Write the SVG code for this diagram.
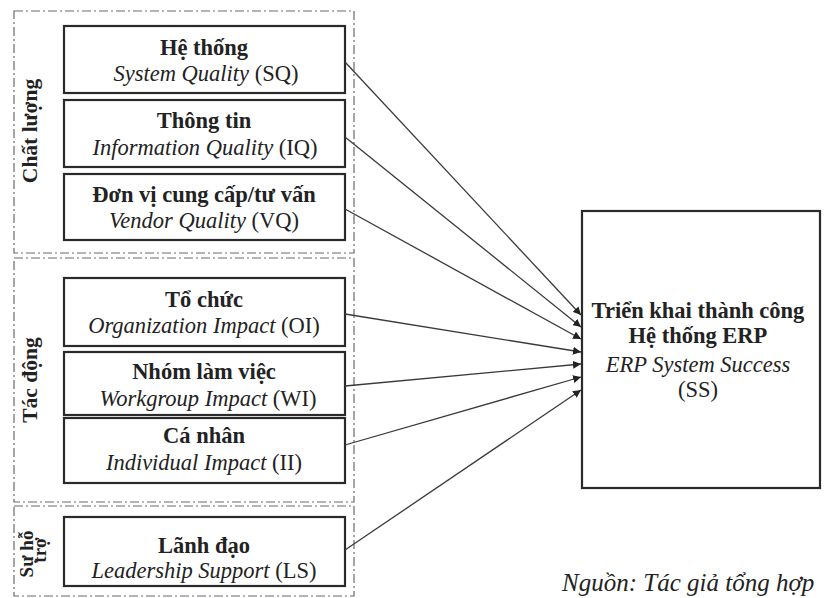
<svg xmlns="http://www.w3.org/2000/svg" width="826" height="598" viewBox="0 0 826 598">
<defs>
<style>
.grp{fill:none;stroke:#6a6a6a;stroke-width:1.2;stroke-dasharray:9 3 2 3}
.box{fill:#fff;stroke:#2a2a2a;stroke-width:2.2}
.t{font-family:"Liberation Serif","Times New Roman",serif;fill:#222;text-anchor:middle}
.b{font-weight:bold;font-size:22.5px}
.i{font-style:italic;font-size:22.5px}
.n{font-style:normal}
.lbl{font-family:"Liberation Serif","Times New Roman",serif;font-weight:bold;font-size:21.5px;fill:#222;text-anchor:middle}
.con{stroke:#3a3a3a;stroke-width:1.3;fill:none;marker-end:url(#ah)}
</style>
<marker id="ah" viewBox="0 0 10 10" refX="10" refY="5" markerWidth="8" markerHeight="8" markerUnits="userSpaceOnUse" orient="auto">
<path d="M0,0 L10,5 L0,10 z" fill="#222"/>
</marker>
</defs>
<rect width="826" height="598" fill="#fff"/>

<g id="group-chatluong">
<rect class="grp" x="14" y="11" width="340" height="242"/>
<text class="lbl" transform="translate(37,131) rotate(-90)">Chất lượng</text>
</g>
<g id="group-tacdong">
<rect class="grp" x="14" y="258" width="340" height="244"/>
<text class="lbl" transform="translate(37,380) rotate(-90)">Tác động</text>
</g>
<g id="group-suhotro">
<rect class="grp" x="14" y="506" width="340" height="90"/>
<text class="lbl" style="font-size:19px" transform="translate(33,554) rotate(-90)">Sự hỗ</text>
<text class="lbl" style="font-size:19px" transform="translate(46,550) rotate(-90)">trợ</text>
</g>

<g id="node-SQ">
<rect class="box" x="64" y="26" width="281" height="67"/>
<text class="t b" x="204" y="55">Hệ thống</text>
<text class="t i" x="206" y="81">System Quality <tspan class="n">(SQ)</tspan></text>
</g>
<g id="node-IQ">
<rect class="box" x="64" y="100" width="281" height="67"/>
<text class="t b" x="204" y="128">Thông tin</text>
<text class="t i" x="205" y="155">Information Quality <tspan class="n">(IQ)</tspan></text>
</g>
<g id="node-VQ">
<rect class="box" x="64" y="174" width="281" height="66"/>
<text class="t b" x="204" y="202">Đơn vị cung cấp/tư vấn</text>
<text class="t i" x="204" y="228">Vendor Quality <tspan class="n">(VQ)</tspan></text>
</g>
<g id="node-OI">
<rect class="box" x="64" y="278" width="281" height="68"/>
<text class="t b" x="204" y="307">Tổ chức</text>
<text class="t i" x="204" y="333">Organization Impact <tspan class="n">(OI)</tspan></text>
</g>
<g id="node-WI">
<rect class="box" x="64" y="352" width="281" height="63"/>
<text class="t b" x="204" y="379">Nhóm làm việc</text>
<text class="t i" x="208" y="406">Workgroup Impact <tspan class="n">(WI)</tspan></text>
</g>
<g id="node-II">
<rect class="box" x="64" y="418" width="281" height="65"/>
<text class="t b" x="204" y="443">Cá nhân</text>
<text class="t i" x="204" y="470">Individual Impact <tspan class="n">(II)</tspan></text>
</g>
<g id="node-LS">
<rect class="box" x="64" y="517" width="281" height="69"/>
<text class="t b" x="204" y="553">Lãnh đạo</text>
<text class="t i" x="204" y="578">Leadership Support <tspan class="n">(LS)</tspan></text>
</g>

<g id="node-SS">
<rect class="box" x="582" y="211" width="238" height="277"/>
<text class="t b" x="698" y="318">Triển khai thành công</text>
<text class="t b" x="698" y="343">Hệ thống ERP</text>
<text class="t i" x="698" y="372">ERP System Success</text>
<text class="t" style="font-size:22.5px" x="698" y="397">(SS)</text>
</g>

<g id="connectors">
<line class="con" x1="345" y1="62" x2="581" y2="315"/>
<line class="con" x1="345" y1="137" x2="581" y2="327"/>
<line class="con" x1="345" y1="209" x2="581" y2="339"/>
<line class="con" x1="345" y1="314" x2="581" y2="352"/>
<line class="con" x1="345" y1="386" x2="581" y2="364"/>
<line class="con" x1="345" y1="445" x2="581" y2="377"/>
<line class="con" x1="345" y1="550" x2="581" y2="390"/>
</g>

<text class="t" style="font-style:italic;font-size:25px;text-anchor:start" x="562" y="591">Nguồn: Tác giả tổng hợp</text>
</svg>
